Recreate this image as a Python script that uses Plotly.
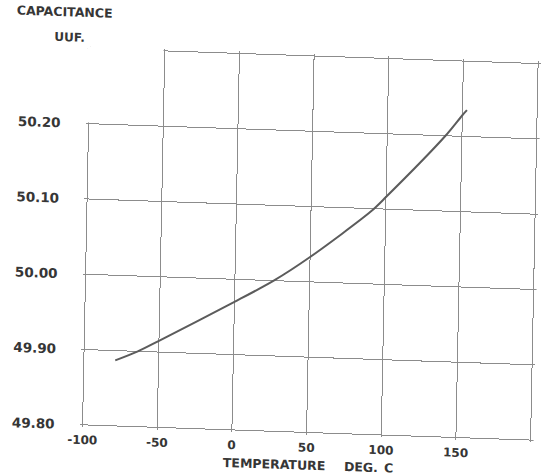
import plotly.graph_objects as go

# Capacitance vs. temperature curve
temperature = [-79, -64, -50, 0, 26, 50, 90, 100, 139, 150, 153]
capacitance = [49.887, 49.900, 49.915, 49.970, 50.000, 50.033, 50.096, 50.116, 50.200, 50.228, 50.235]

# Axis ticks
x_ticks = [-100, -50, 0, 50, 100, 150, 200]
x_labels = ["-100", "-50", "0", "50", "100", "150", ""]
y_ticks = [49.80, 49.90, 50.00, 50.10, 50.20, 50.30]
y_labels = ["49.80", "49.90", "50.00", "50.10", "50.20", ""]

INK = "#363636"
GRID = "#8c8c8c"
FONT = dict(family="DejaVu Sans", size=12, color=INK, weight="bold")
YFONT = dict(FONT, size=13.5)
TFONT = dict(FONT, size=12.5)

fig = go.Figure()
fig.add_trace(go.Scatter(
    x=temperature, y=capacitance, mode="lines",
    line=dict(color="#5c5c5c", width=2, shape="spline", smoothing=0.8),
    hoverinfo="skip", showlegend=False,
))

# the grid has no cell in the upper-left corner
fig.add_shape(type="rect", xref="x", yref="y", layer="above",
              x0=-104, x1=-50.8, y0=50.2015, y1=50.32,
              fillcolor="white", line=dict(width=0))

fig.add_annotation(text="CAPACITANCE", xref="paper", yref="paper",
                   x=-0.05, y=1.087, showarrow=False, font=TFONT,
                   xanchor="center", yanchor="middle")
fig.add_annotation(text="UUF.", xref="paper", yref="paper",
                   x=-0.04, y=1.021, showarrow=False, font=FONT,
                   xanchor="center", yanchor="middle")
fig.add_annotation(text="TEMPERATURE\u2003\u2002DEG.\u2002C", xref="paper", yref="paper",
                   x=0.5, y=0, xshift=2, yshift=-30, showarrow=False, font=TFONT,
                   xanchor="center", yanchor="middle")

fig.update_xaxes(
    range=[-102, 202], tickmode="array", tickvals=x_ticks, ticktext=x_labels,
    showgrid=True, gridcolor=GRID, gridwidth=1.2, zeroline=False, showline=False,
    ticks="", tickfont=FONT, ticklabelstandoff=4,
)
fig.update_yaxes(
    range=[49.797, 50.303], tickmode="array", tickvals=y_ticks, ticktext=y_labels,
    showgrid=True, gridcolor=GRID, gridwidth=1.2, zeroline=False, showline=False,
    ticks="", tickfont=YFONT, ticklabelstandoff=24,
)

fig.update_layout(
    width=542, height=476, autosize=False,
    margin=dict(l=88, r=0, t=43, b=52),
    paper_bgcolor="white", plot_bgcolor="white",
)

# slight skew of the sheet
post = (
    "var gd=document.getElementById('{plot_id}');"
    "gd.style.transformOrigin='0 0';"
    "gd.style.transform='matrix(1,0.034,-0.02,1,0,0)';"
    "document.documentElement.style.overflow='hidden';"
    "document.body.style.overflow='hidden';"
    "document.body.style.margin='0';"
)
fig.write_html("out.html", post_script=post)
